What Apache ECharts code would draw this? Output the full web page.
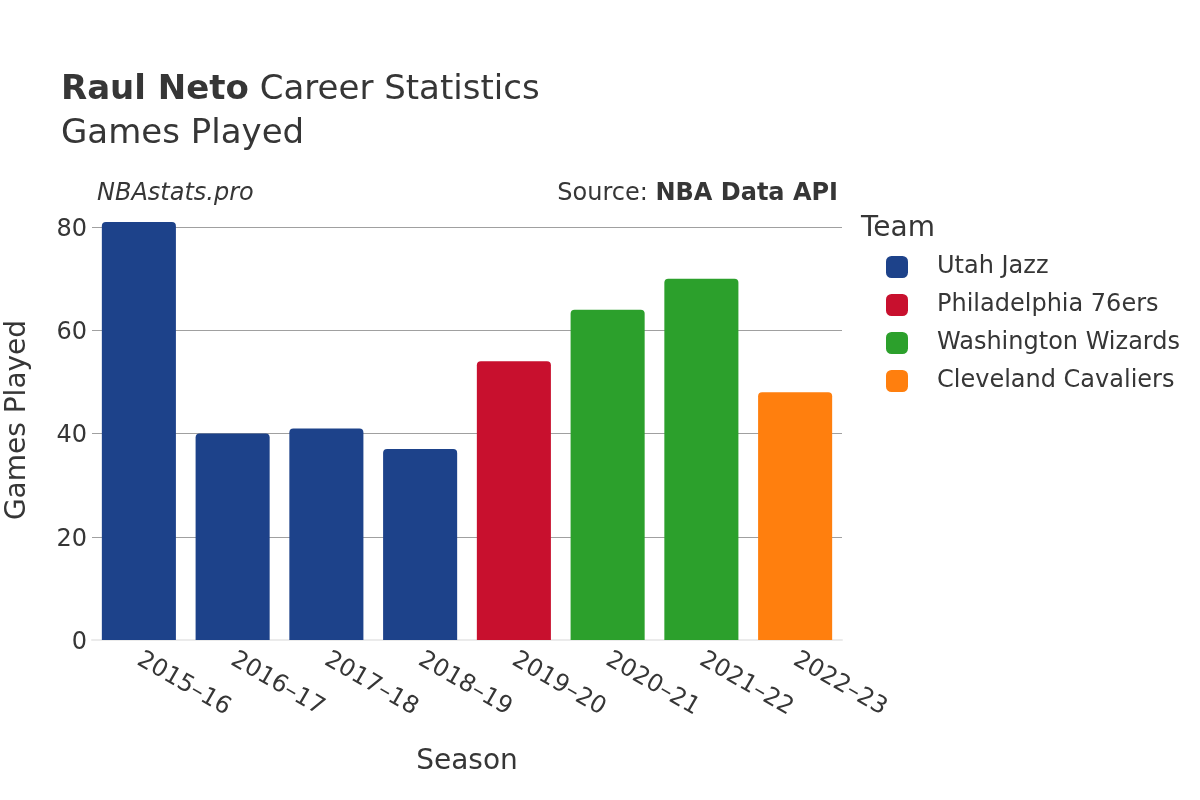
<!DOCTYPE html>
<html>
<head>
<meta charset="utf-8">
<script src="https://cdn.jsdelivr.net/npm/echarts@6/dist/echarts.min.js"></script>
<style>html,body{margin:0;padding:0;background:#fff}#c{width:1200px;height:800px}</style>
</head>
<body>
<div id="c"></div>
<script>
const seasons = ['2015–16','2016–17','2017–18','2018–19','2019–20','2020–21','2021–22','2022–23'];
const teams = ['Utah Jazz','Philadelphia 76ers','Washington Wizards','Cleveland Cavaliers'];
const teamColors = ['#1d428a','#c8102e','#2ca02c','#ff7f0e'];
const seasonTeam = ['Utah Jazz','Utah Jazz','Utah Jazz','Utah Jazz','Philadelphia 76ers','Washington Wizards','Washington Wizards','Cleveland Cavaliers'];
const gamesPlayed = [81, 40, 41, 37, 54, 64, 70, 48];
const yTicks = [0, 20, 40, 60, 80];

const FONT = 'DejaVu Sans';
const TXT = '#363636';

const series = teams.map((t, i) => ({
  name: t,
  type: 'bar',
  stack: 'gp',
  barCategoryGap: '21%',
  itemStyle: { color: teamColors[i], borderRadius: [4, 4, 0, 0] },
  data: gamesPlayed.map((v, k) => seasonTeam[k] === t ? v : null)
}));

const chart = echarts.init(document.getElementById('c'));
chart.setOption({
  animation: false,
  textStyle: { fontFamily: FONT },
  grid: { left: 92, right: 358, top: 200, bottom: 160, outerBoundsMode: 'none', containLabel: false },
  xAxis: {
    type: 'category',
    data: seasons,
    axisLine: { show: true, lineStyle: { color: '#ebebeb', width: 2 } },
    axisTick: { show: false },
    axisLabel: { rotate: -30, fontSize: 24, color: TXT, fontFamily: FONT, margin: 18 },
    name: 'Season',
    nameLocation: 'middle',
    nameGap: 108,
    nameTextStyle: { fontSize: 28, color: TXT, fontFamily: FONT }
  },
  yAxis: {
    type: 'value',
    min: yTicks[0],
    max: 85.26,
    interval: 20,
    axisLine: { show: false },
    axisTick: { show: false },
    axisLabel: { fontSize: 24, color: TXT, fontFamily: FONT, margin: 5, showMaxLabel: false,
      formatter: v => yTicks.includes(v) ? '{v|' + v + '}' : '',
      rich: { v: { fontSize: 24, color: TXT, fontFamily: FONT, padding: [5, 0, 0, 0] } } },
    splitLine: { showMinLine: false, showMaxLine: false, lineStyle: { color: '#a0a0a0', width: 1 } },
    name: 'Games Played',
    nameLocation: 'middle',
    nameGap: 60,
    nameTextStyle: { fontSize: 28, color: TXT, fontFamily: FONT }
  },
  legend: {
    orient: 'vertical',
    left: 881,
    top: 250,
    icon: 'roundRect',
    itemWidth: 22,
    itemHeight: 22,
    itemGap: 14,
    data: teams,
    textStyle: { fontSize: 24, color: TXT, fontFamily: FONT, padding: [0, 0, 0, 24] }
  },
  graphic: [
    { type: 'text', left: 61, top: 73, style: { text: '{b|Raul Neto} Career Statistics', fill: TXT,
      font: '34px "DejaVu Sans"', rich: { b: { fontWeight: 'bold', fontSize: 34, fontFamily: FONT, fill: TXT } } } },
    { type: 'text', left: 61, top: 117, style: { text: 'Games Played', fill: TXT, font: '34px "DejaVu Sans"' } },
    { type: 'text', left: 97, top: 182, style: { text: 'NBAstats.pro', fill: TXT, font: 'italic 24px "DejaVu Sans"' } },
    { type: 'text', right: 362, top: 182, style: { text: 'Source: {b|NBA Data API}', fill: TXT,
      font: '24px "DejaVu Sans"', rich: { b: { fontWeight: 'bold', fontSize: 24, fontFamily: FONT, fill: TXT } } } },
    { type: 'text', left: 861, top: 215, style: { text: 'Team', fill: TXT, font: '28px "DejaVu Sans"' } }
  ],
  series: series
});
</script>
</body>
</html>
